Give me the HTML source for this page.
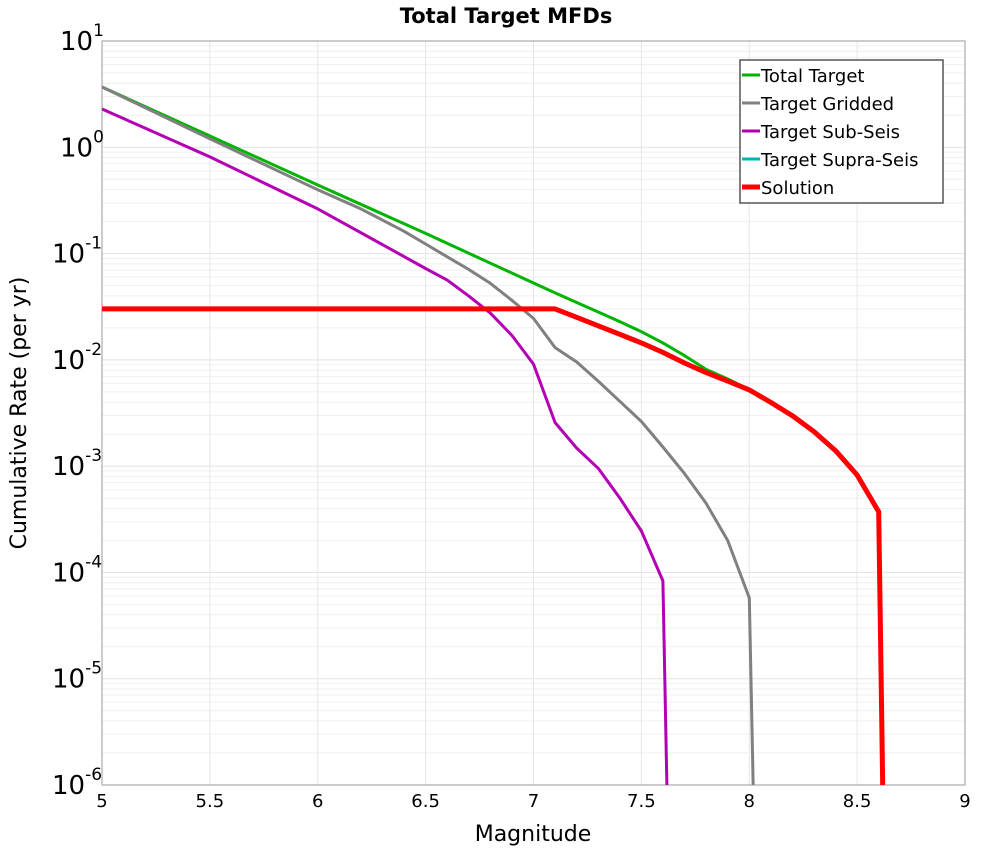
<!DOCTYPE html>
<html><head><meta charset="utf-8"><style>
body{margin:0;background:#fff;}
svg{display:block;font-family:"DejaVu Sans","Liberation Sans",sans-serif;}
</style></head><body>
<svg id="chart" width="1000" height="850" viewBox="0 0 1000 850" xmlns="http://www.w3.org/2000/svg"></svg>
<script>
const totalMags = [5.0,5.5,6.0,6.5,7.0,7.1,7.2,7.3,7.4,7.5,7.6,7.7,7.8,7.9,8.0,8.1,8.2,8.3,8.4,8.5,8.6,8.62];
const totalLog  = [0.567,0.106,-0.355,-0.81,-1.277,-1.37,-1.46,-1.55,-1.64,-1.735,-1.84,-1.96,-2.09,-2.18,-2.28,-2.40,-2.525,-2.675,-2.855,-3.083,-3.43,-6.2];
const gridMags = [5.0,5.5,6.0,6.2,6.4,6.5,6.6,6.7,6.8,6.9,7.0,7.1,7.2,7.3,7.4,7.5,7.6,7.7,7.8,7.9,8.0,8.02];
const gridLog  = [0.567,0.08,-0.40,-0.58,-0.79,-0.91,-1.03,-1.15,-1.28,-1.44,-1.61,-1.885,-2.02,-2.20,-2.39,-2.58,-2.82,-3.07,-3.35,-3.70,-4.24,-6.2];
const subMags = [5.0,5.5,6.0,6.5,6.6,6.7,6.8,6.9,7.0,7.1,7.2,7.3,7.4,7.5,7.6,7.62];
const subLog  = [0.36,-0.09,-0.58,-1.14,-1.25,-1.40,-1.56,-1.77,-2.04,-2.59,-2.83,-3.02,-3.30,-3.61,-4.08,-6.2];
const solMags = [5.0,7.1,7.2,7.3,7.4,7.5,7.6,7.7,7.8,7.9,8.0,8.1,8.2,8.3,8.4,8.5,8.6,8.62];
const solLog  = [-1.521,-1.521,-1.60,-1.68,-1.76,-1.84,-1.93,-2.03,-2.12,-2.20,-2.283,-2.40,-2.525,-2.675,-2.855,-3.083,-3.43,-6.2];
const xTicks = ["5","5.5","6","6.5","7","7.5","8","8.5","9"];
const yExps = [1,0,-1,-2,-3,-4,-5,-6];

const NS="http://www.w3.org/2000/svg", svg=document.getElementById('chart');
const L=102,R=965,T=41,B=785, xMin=5,xMax=9,yMin=-6,yMax=1;
const xs=v=>L+(v-xMin)/(xMax-xMin)*(R-L);
const ys=v=>{v=Math.max(v,yMin-0.2);return T+(yMax-v)/(yMax-yMin)*(B-T);};
function mk(tag,attrs,parent){const e=document.createElementNS(NS,tag);for(const k in attrs)e.setAttribute(k,attrs[k]);(parent||svg).appendChild(e);return e;}

const defs=mk('defs',{});const cp=mk('clipPath',{id:'pc'},defs);mk('rect',{x:L,y:T,width:R-L,height:B-T},cp);

const grid=mk('g',{});


for(let d=yMin;d<yMax;d++){for(let m=2;m<=9;m++){const y=ys(d+Math.log10(m));mk('line',{x1:L,x2:R,y1:y,y2:y,stroke:'#efefef','stroke-width':1},grid);}}
yExps.forEach(e=>{const y=ys(e);mk('line',{x1:L,x2:R,y1:y,y2:y,stroke:'#e2e2e2','stroke-width':1},grid);});
xTicks.forEach(t=>{const x=xs(parseFloat(t));mk('line',{x1:x,x2:x,y1:T,y2:B,stroke:'#e6e6e6','stroke-width':1},grid);});

mk('rect',{x:L,y:T,width:R-L,height:B-T,fill:'none',stroke:'#aaaaaa','stroke-width':1.2,});

function series(mags,logs,color,w,name){
  const p=mags.map((m,i)=>(i?'L':'M')+xs(m).toFixed(1)+','+ys(logs[i]).toFixed(1)).join(' ');
  const el=mk('path',{d:p,fill:'none',stroke:color,'stroke-width':w,'stroke-linejoin':'round','clip-path':'url(#pc)'});
  
  
}
series(totalMags,totalLog,'#00b400',3,'total-target-line');
series(gridMags,gridLog,'#808080',3,'target-gridded-line');
series(subMags,subLog,'#b400b4',3,'target-sub-seis-line');
series(solMags,solLog,'#ff0000',5,'solution-line');

yExps.forEach(e=>{
  const t=mk('text',{x:L-6,y:ys(e)+9,'text-anchor':'end','font-size':26,fill:'#000'});
  
  
  const a=document.createElementNS(NS,'tspan');a.textContent='10';t.appendChild(a);
  const b=document.createElementNS(NS,'tspan');b.setAttribute('dy','-14');b.setAttribute('font-size','17');b.textContent=String(e);t.appendChild(b);
  t.setAttribute('text-anchor','start');
  t.setAttribute('x', e<0?L-42-8:L-42);
});
xTicks.forEach(s=>{
  const t=mk('text',{x:xs(parseFloat(s)),y:807,'text-anchor':'middle','font-size':18,fill:'#000'});
  
  
  t.textContent=s;
});
const xt=mk('text',{x:533,y:841,'text-anchor':'middle','font-size':22,fill:'#000',});xt.textContent='Magnitude';
const yt=mk('text',{x:0,y:0,'text-anchor':'middle','font-size':22,fill:'#000',transform:'translate(26,413) rotate(-90)',});yt.textContent='Cumulative Rate (per yr)';
const tt=mk('text',{x:506,y:23,'text-anchor':'middle','font-size':21,'font-weight':'bold',fill:'#000',});tt.textContent='Total Target MFDs';

const leg=mk('g',{});
mk('rect',{x:740,y:60,width:203,height:143,fill:'#fff',stroke:'#555','stroke-width':1.5},leg);
const names=['Total Target','Target Gridded','Target Sub-Seis','Target Supra-Seis','Solution'];
const cols=['#00b400','#808080','#b400b4','#00b4b4','#ff0000'];
names.forEach((n,i)=>{
  const y=75+i*28;
  const g=mk('g',{},leg);
  
  
  mk('line',{x1:742,x2:760,y1:y,y2:y,stroke:cols[i],'stroke-width':i===4?5:3},g);
  const t=mk('text',{x:761,y:y+7,'font-size':18,fill:'#000'},g);t.textContent=n;
});
</script>
</body></html>
